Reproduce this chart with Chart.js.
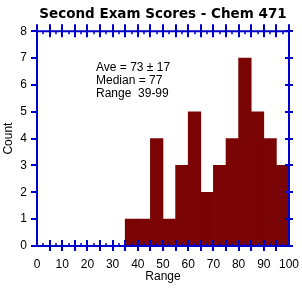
<!DOCTYPE html>
<html>
<head>
<meta charset="utf-8">
<script src="https://cdn.jsdelivr.net/npm/chart.js@4"></script>
<style>
  html, body { margin: 0; padding: 0; background: #fff; }
  #wrap { width: 302px; height: 288px; }
</style>
</head>
<body>
<div id="wrap"><canvas id="chart" width="302" height="288"></canvas></div>
<script>
// histogram bins (score range starts, width 5) and how many students fell in each
const binStarts = [35, 40, 45, 50, 55, 60, 65, 70, 75, 80, 85, 90, 95];
const counts    = [1, 1, 4, 1, 3, 5, 2, 3, 4, 7, 5, 4, 3];
const binWidth = 5;
const statLines = ['Ave = 73 \u00b1 17', 'Median = 77', 'Range  39-99'];

const axisBlue = '#0000cc';
const barRed = '#7a0404';
const labelFont = { family: 'Liberation Sans, Arial, sans-serif', size: 12 };
const tickFont = { family: 'Liberation Sans Narrow, Liberation Sans, sans-serif', size: 12 };

// blue frame with ticks crossing / sitting on the axes, like the old mac plot
const frameTicks = {
    id: 'frameTicks',
    afterDatasetsDraw(chart) {
        const { ctx, chartArea: a, scales: { x, y } } = chart;
        ctx.save();
        ctx.strokeStyle = axisBlue;
        ctx.lineWidth = 2;
        ctx.beginPath();
        ctx.moveTo(a.left, a.top - 7); ctx.lineTo(a.left, a.bottom);
        ctx.moveTo(a.right, a.top - 7); ctx.lineTo(a.right, a.bottom);
        ctx.moveTo(a.left, a.top); ctx.lineTo(a.right, a.top);
        ctx.moveTo(a.left - 6, a.bottom); ctx.lineTo(a.right + 4, a.bottom);
        for (let v = 5; v < 100; v += 5) {
            const px = Math.round(x.getPixelForValue(v));
            ctx.moveTo(px, a.top - 7); ctx.lineTo(px, a.top + 6);
            ctx.moveTo(px, a.bottom - 6); ctx.lineTo(px, a.bottom + 5);
        }
        for (let v = 0; v <= 8; v++) {
            const py = Math.round(y.getPixelForValue(v));
            ctx.moveTo(a.left - 6, py); ctx.lineTo(a.left, py);
            ctx.moveTo(a.right - 4, py); ctx.lineTo(a.right + 4, py);
        }
        ctx.stroke();
        ctx.lineWidth = 1.5;
        ctx.beginPath();
        for (let v = 2.5; v < 100; v += 5) {
            const px = Math.round(x.getPixelForValue(v));
            ctx.moveTo(px, a.top); ctx.lineTo(px, a.top + 3);
            ctx.moveTo(px, a.bottom - 3); ctx.lineTo(px, a.bottom);
        }
        ctx.stroke();

        ctx.fillStyle = '#000';
        ctx.font = '12px ' + labelFont.family;
        ctx.textBaseline = 'middle';
        statLines.forEach((t, i) => ctx.fillText(t, 96, 68 + i * 13));
        ctx.restore();
    }
};

new Chart(document.getElementById('chart'), {
    type: 'bar',
    data: {
        datasets: [{
            data: binStarts.map((s, i) => ({ x: s + binWidth / 2, y: counts[i] })),
            backgroundColor: barRed,
            borderWidth: 0,
            barPercentage: 1,
            categoryPercentage: 1
        }]
    },
    options: {
        responsive: false,
        animation: false,
        layout: { padding: { left: 0, right: 13, top: 0, bottom: 0 } },
        plugins: {
            legend: { display: false },
            tooltip: { enabled: false },
            title: {
                display: true,
                fullSize: false,
                text: 'Second Exam Scores - Chem 471',
                color: '#000',
                font: { family: 'DejaVu Sans, sans-serif', size: 13.5, weight: 'bold' },
                padding: { top: 6, bottom: 9 }
            }
        },
        scales: {
            x: {
                type: 'linear',
                min: 0, max: 100,
                offset: false,
                grid: { display: false, drawTicks: false },
                border: { display: false },
                ticks: { stepSize: 10, color: '#000', font: tickFont, padding: 11, maxRotation: 0 },
                title: { display: true, text: 'Range', color: '#000', font: labelFont, padding: { top: 0, bottom: 4 } },
                afterFit: s => { s.height = 42; s.paddingLeft = 0; s.paddingRight = 0; }
            },
            y: {
                min: 0, max: 8,
                grid: { display: false, drawTicks: false },
                border: { display: false },
                ticks: { stepSize: 1, color: '#000', font: tickFont, padding: 10 },
                title: { display: true, text: 'Count', color: '#000', font: labelFont, padding: { top: 1, bottom: 0 } },
                afterFit: s => { s.width = 37; s.paddingTop = 0; s.paddingBottom = 0; }
            }
        }
    },
    plugins: [frameTicks]
});
</script>
</body>
</html>
